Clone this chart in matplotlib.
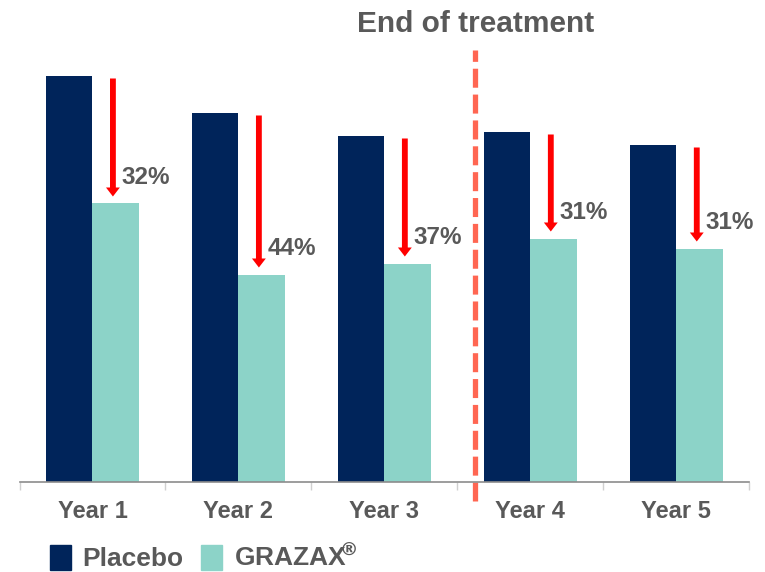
import matplotlib
matplotlib.use("Agg")
import matplotlib.pyplot as plt
from matplotlib.patches import Patch

# data (arbitrary score units)
years = ["Year 1", "Year 2", "Year 3", "Year 4", "Year 5"]
placebo = [4.05, 3.68, 3.45, 3.49, 3.36]
grazax = [2.78, 2.07, 2.18, 2.43, 2.33]
reductions = ["32%", "44%", "37%", "31%", "31%"]
series_names = ["Placebo", r"GRAZAX$^{\!\!®}$"]
end_of_treatment_x = 2.62

NAVY = "#00245A"
TEAL = "#8CD3C8"
GREY_TXT = "#595959"
RED = "#FF0000"
CORAL = "#FF6652"

plt.rcParams["font.family"] = ["Liberation Sans", "DejaVu Sans"]
plt.rcParams["font.weight"] = "bold"

fig = plt.figure(figsize=(7.65, 5.72), dpi=100)
ax = fig.add_axes([0.0255, 0.1582, 0.954, 0.7544])

x = list(range(len(years)))
w = 0.32
ax.bar([i - w / 2 for i in x], placebo, width=w, color=NAVY)
ax.bar([i + w / 2 for i in x], grazax, width=w, color=TEAL)

ax.set_xlim(-0.5, 4.5)
ax.set_ylim(0, 4.315)

# reduction arrows + labels
for i in x:
    ax_x = i + 0.14
    start = placebo[i] - 0.02
    tip = grazax[i] + 0.07
    ax.arrow(ax_x, start, 0, tip - start, width=0.04, head_width=0.095,
             head_length=0.09, length_includes_head=True, color=RED, lw=0)
    ax.annotate(reductions[i], (ax_x, tip), xytext=(6, 14), textcoords="offset points",
                ha="left", va="center", fontsize=17.5, color=GREY_TXT, fontweight="bold")

# end of treatment marker
ax.axvline(end_of_treatment_x, ymin=-0.045, ymax=1.0, clip_on=False, color=CORAL,
           lw=3.8, dashes=(3.6, 1.3))
fig.text(476 / 765, 1 - 24 / 572, "End of treatment", ha="center", va="center",
         fontsize=21.5, color=GREY_TXT, fontweight="bold")

# axes styling
for s in ["top", "right", "left"]:
    ax.spines[s].set_visible(False)
ax.spines["bottom"].set_color("#8C8C8C")
ax.spines["bottom"].set_linewidth(1.2)
ax.set_yticks([])
ax.set_xticks([i - 0.5 for i in range(len(years) + 1)])
ax.set_xticklabels([])
ax.tick_params(axis="x", which="major", length=6, color="#D0D0D0", width=1)
ax.set_xticks(x, minor=True)
ax.set_xticklabels(years, minor=True, fontsize=17, color=GREY_TXT, fontweight="bold")
ax.tick_params(axis="x", which="minor", length=0, pad=13)

handles = [Patch(color=NAVY), Patch(color=TEAL)]
fig.legend(handles, series_names, loc="upper left",
           bbox_to_anchor=(0.065, 0.051), frameon=False, ncol=2,
           prop={"size": 19, "weight": "bold"}, labelcolor=GREY_TXT,
           handlelength=0.8, handleheight=1.1, handletextpad=0.45, columnspacing=0.65,
           borderaxespad=0, borderpad=0)

fig.savefig("out.png", dpi=100)
